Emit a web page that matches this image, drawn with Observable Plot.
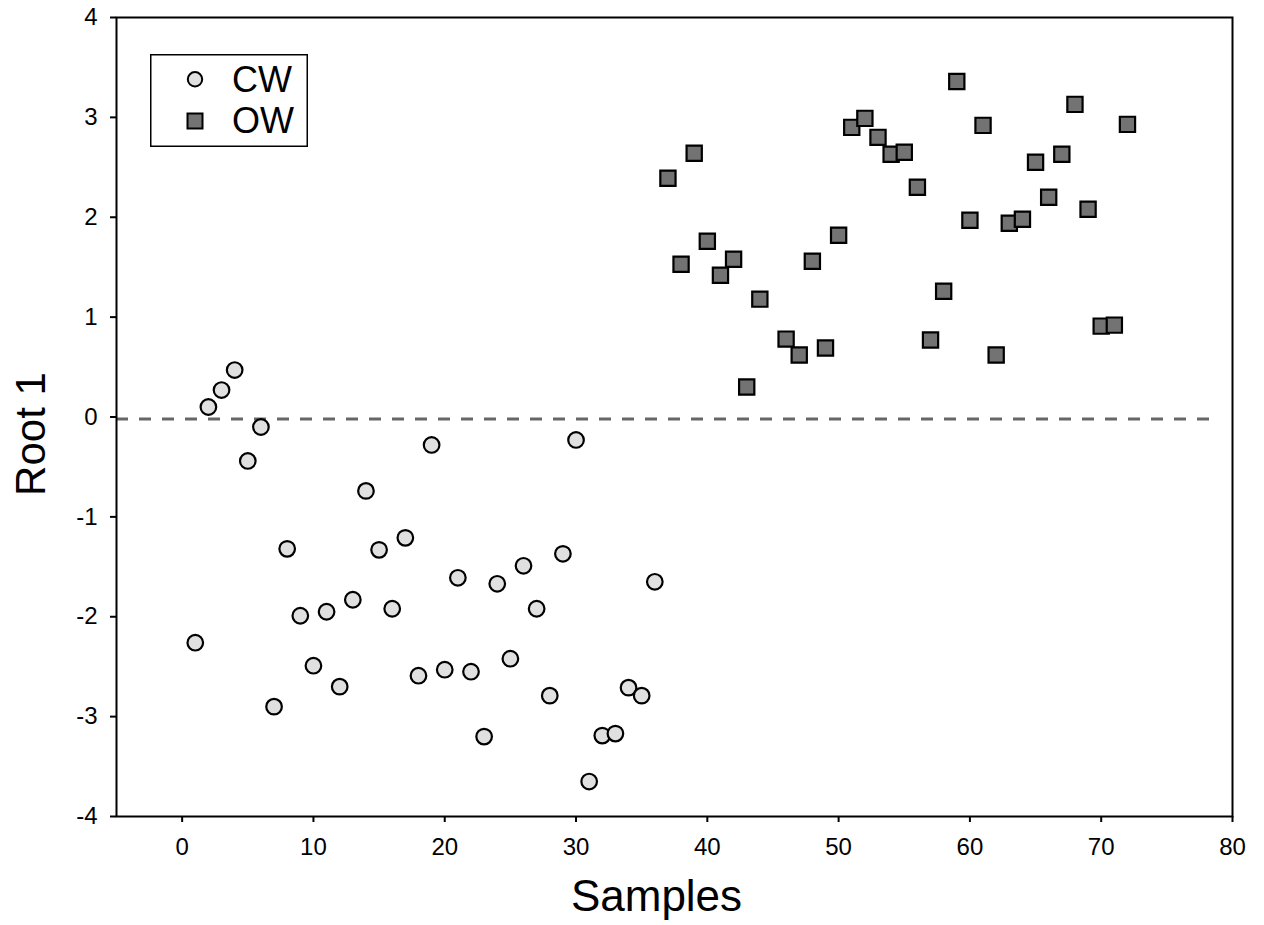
<!DOCTYPE html>
<html><head><meta charset="utf-8">
<script src="https://cdn.jsdelivr.net/npm/d3@7"></script>
<script src="https://cdn.jsdelivr.net/npm/@observablehq/plot@0.6"></script>
<style>
body{margin:0;background:#fff;}
#wrap{position:relative;width:1264px;height:925px;font-family:"Liberation Sans",Arial,sans-serif;}
#legend{position:absolute;left:150px;top:54px;}
</style></head><body><div id="wrap"></div>
<script>
// CW group: samples 1..36
const cwSamples = [1,2,3,4,5,6,7,8,9,10,11,12,13,14,15,16,17,18,19,20,21,22,23,24,25,26,27,28,29,30,31,32,33,34,35,36];
const cwRoot = [-2.26,0.10,0.27,0.47,-0.44,-0.10,-2.90,-1.32,-1.99,-2.49,-1.95,-2.70,-1.83,-0.74,-1.33,-1.92,-1.21,-2.59,-0.28,-2.53,-1.61,-2.55,-3.20,-1.67,-2.42,-1.49,-1.92,-2.79,-1.37,-0.23,-3.65,-3.19,-3.17,-2.71,-2.79,-1.65];
// OW group
const owSamples = [37,38,39,40,41,42,43,44,46,47,48,49,50,51,52,53,54,55,56,57,58,59,60,61,62,63,64,65,66,67,68,69,70,71,72];
const owRoot = [2.39,1.53,2.64,1.76,1.42,1.58,0.30,1.18,0.78,0.62,1.56,0.69,1.82,2.90,2.99,2.80,2.63,2.65,2.30,0.77,1.26,3.36,1.97,2.92,0.62,1.94,1.98,2.55,2.20,2.63,3.13,2.08,0.91,0.92,2.93];
const xTicks = [0,10,20,30,40,50,60,70,80];
const yTicks = [-4,-3,-2,-1,0,1,2,3,4];
const xDomain = [-5, 80];
const yDomain = [-4, 4];
const refLine = [{y: -0.02, x1: -5, x2: 78.3}];
const groups = ["CW", "OW"];
const fills = {CW: "#e0e0e0", OW: "#737373"};

const cw = cwSamples.map((s, i) => ({sample: s, root: cwRoot[i]}));
const ow = owSamples.map((s, i) => ({sample: s, root: owRoot[i]}));

const font = '"Liberation Sans", Arial, sans-serif';
const plot = Plot.plot({
  width: 1264, height: 925,
  marginLeft: 116, marginRight: 32, marginTop: 17, marginBottom: 109,
  style: {fontFamily: font, fontSize: "24px", color: "#000", background: "#fff"},
  x: {domain: xDomain, ticks: xTicks, label: null},
  y: {domain: yDomain, ticks: yTicks, label: null},
  marks: [
    Plot.ruleY(refLine, {y: "y", x1: "x1", x2: "x2", stroke: "#666", strokeWidth: 3.2, strokeDasharray: "12,11"}),
    Plot.dot(cw, {x: "sample", y: "root", r: 7.8, symbol: "circle", fill: fills.CW, stroke: "#000", strokeWidth: 2.2}),
    Plot.dot(ow, {x: "sample", y: "root", r: 8.6, symbol: "square", fill: fills.OW, stroke: "#000", strokeWidth: 2.2}),
    Plot.frame({stroke: "#000", strokeWidth: 2}),
    Plot.axisX({ticks: xTicks, tickSize: 6, tickPadding: 15, tickFormat: d => String(d), fontSize: 24, label: null, strokeWidth: 2}),
    Plot.axisY({ticks: yTicks, tickSize: 6, tickPadding: 13, tickFormat: d => String(d), fontSize: 24, label: null, strokeWidth: 2}),
    Plot.text(["Samples"], {frameAnchor: "bottom", textAnchor: "middle", dx: -18, dy: 94, fontSize: 44, fill: "#000"}),
    Plot.text(["Root 1"], {frameAnchor: "left", textAnchor: "middle", dx: -85, dy: 17, rotate: -90, fontSize: 42, fill: "#000"})
  ]
});
document.getElementById("wrap").appendChild(plot);

// legend
const lg = d3.select("#wrap").append("svg").attr("id", "legend").attr("width", 160).attr("height", 95);
lg.append("rect").attr("x", 0.75).attr("y", 0.75).attr("width", 156.5).attr("height", 91.5).attr("fill", "#fff").attr("stroke", "#000").attr("stroke-width", 1.5);
lg.append("circle").attr("cx", 45).attr("cy", 25.3).attr("r", 7.2).attr("fill", fills.CW).attr("stroke", "#000").attr("stroke-width", 2);
lg.append("rect").attr("x", 37.5).attr("y", 59.5).attr("width", 15).attr("height", 15).attr("fill", fills.OW).attr("stroke", "#000").attr("stroke-width", 2);
groups.forEach((g, i) => {
  lg.append("text").attr("x", 82).attr("y", 38 + i * 41).attr("font-family", font).attr("font-size", 36).attr("fill", "#000").text(g);
});
</script>
</body></html>
